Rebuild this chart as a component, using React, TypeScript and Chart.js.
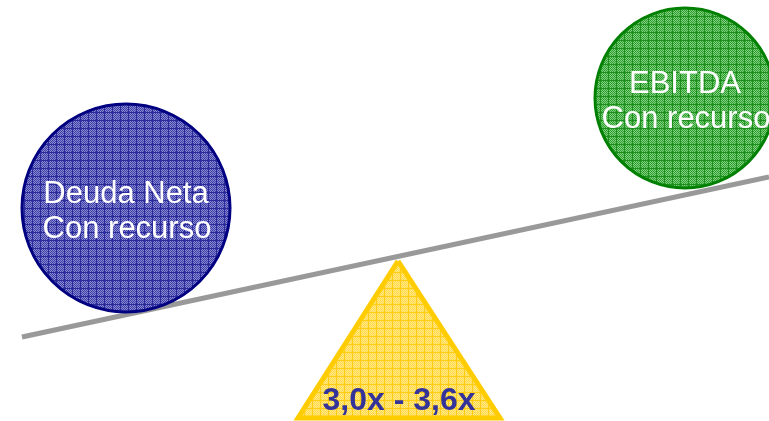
import React, { useEffect, useRef } from "react";
import { Chart, registerables } from "chart.js";

Chart.register(...registerables);

// Diagram values (in a 769 x 421 data space)
const beamX = [22, 769];
const beamY = [337, 177];
const fulcrumX = [398, 500, 298, 398];
const fulcrumY = [261, 418, 418, 261];
const circleX = [126, 685];
const circleY = [208, 98];
const circleLabels = [
  ["Deuda Neta", "Con recurso"],
  ["EBITDA", "Con recurso"],
];
const ratioLabel = "3,0x - 3,6x";

function makePattern(line: string, a: string, b: string): CanvasPattern | string {
  const c = document.createElement("canvas");
  c.width = 8;
  c.height = 8;
  const g = c.getContext("2d");
  if (!g) return a;
  for (let y = 0; y < 8; y++) {
    for (let x = 0; x < 8; x++) {
      if (x === 0 || y === 0) g.fillStyle = line;
      else g.fillStyle = (x + y) % 2 === 0 ? a : b;
      g.fillRect(x, y, 1, 1);
    }
  }
  const p = g.createPattern(c, "repeat");
  return p || a;
}

export default function App() {
  const ref = useRef<HTMLCanvasElement | null>(null);

  useEffect(() => {
    if (!ref.current) return;
    const bluePat = makePattern("#2a2a98", "#3c3ca8", "#8b8bd2");
    const greenPat = makePattern("#1e8e1e", "#2f9f2f", "#7fcf7f");
    const yellowPat = makePattern("#ffcc11", "#ffd844", "#ffe98a");

    const labelPlugin = {
      id: "labels",
      afterDatasetsDraw(chart: any) {
        const ctx = chart.ctx as CanvasRenderingContext2D;
        const xs = chart.scales.x;
        const ys = chart.scales.y;
        ctx.save();
        ctx.textAlign = "center";
        ctx.textBaseline = "alphabetic";
        ctx.fillStyle = "#ffffff";
        ctx.font = "31px 'Liberation Sans', Arial, sans-serif";
        circleLabels.forEach((lines, i) => {
          const cx = xs.getPixelForValue(circleX[i]);
          const cy = ys.getPixelForValue(circleY[i]);
          ctx.fillText(lines[0], cx, cy - 5);
          ctx.fillText(lines[1], cx + 1, cy + 30);
        });
        ctx.fillStyle = "#333399";
        ctx.font = "bold 32px 'Liberation Sans', Arial, sans-serif";
        const tx = xs.getPixelForValue(fulcrumX[0]);
        const ty = ys.getPixelForValue(fulcrumY[1]);
        ctx.fillText(ratioLabel, tx + 1, ty - 8);
        ctx.restore();
      },
    };

    const chart = new Chart(ref.current, {
      type: "scatter",
      data: {
        datasets: [
          {
            label: "Deuda Neta",
            data: [{ x: circleX[0], y: circleY[0] }],
            pointRadius: 104,
            pointHoverRadius: 104,
            pointBackgroundColor: bluePat as any,
            pointBorderColor: "#000080",
            pointBorderWidth: 3,
            clip: false as any,
            order: 1,
          },
          {
            label: "EBITDA",
            data: [{ x: circleX[1], y: circleY[1] }],
            pointRadius: 90,
            pointHoverRadius: 90,
            pointBackgroundColor: greenPat as any,
            pointBorderColor: "#008000",
            pointBorderWidth: 3,
            clip: false as any,
            order: 2,
          },
          {
            label: "Fulcrum",
            type: "line",
            data: fulcrumX.map((x, i) => ({ x, y: fulcrumY[i] })),
            borderColor: "#ffcc00",
            borderWidth: 5,
            backgroundColor: yellowPat as any,
            fill: "shape" as any,
            borderJoinStyle: "miter",
            pointRadius: 0,
            tension: 0,
            clip: false as any,
            order: 3,
          },
          {
            label: "Beam",
            type: "line",
            data: beamX.map((x, i) => ({ x, y: beamY[i] })),
            borderColor: "#999999",
            borderWidth: 5,
            borderCapStyle: "butt",
            pointRadius: 0,
            fill: false,
            clip: false as any,
            order: 4,
          },
        ],
      },
      options: {
        animation: false,
        responsive: true,
        maintainAspectRatio: false,
        layout: { padding: 0, autoPadding: false },
        events: [],
        plugins: {
          legend: { display: false },
          tooltip: { enabled: false },
        },
        scales: {
          x: { type: "linear", min: 0, max: 769, display: false },
          y: { type: "linear", min: 0, max: 421, reverse: true, display: false },
        },
      },
      plugins: [labelPlugin],
    });
    return () => chart.destroy();
  }, []);

  return (
    <div
      style={{
        position: "absolute",
        left: 0,
        top: 0,
        width: 769,
        height: 421,
        background: "#ffffff",
      }}
    >
      <canvas ref={ref} />
    </div>
  );
}
